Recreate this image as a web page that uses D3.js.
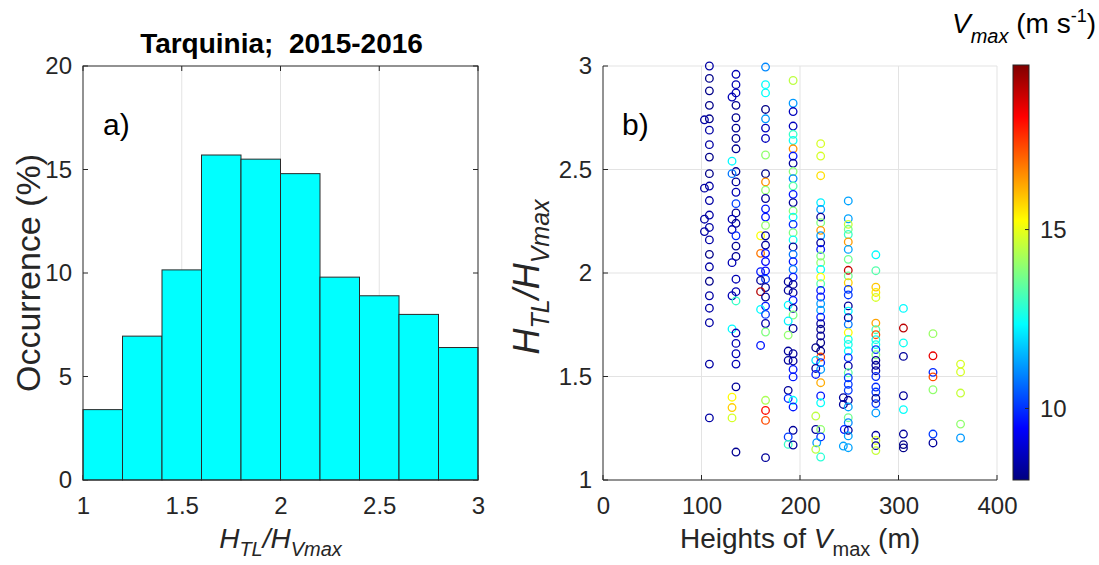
<!DOCTYPE html>
<html>
<head>
<meta charset="utf-8">
<script src="https://cdn.jsdelivr.net/npm/d3@7"></script>
<style>
  html, body { margin: 0; padding: 0; background: #fff; }
  svg { display: block; font-family: "Liberation Sans", Arial, Helvetica, sans-serif; }
</style>
</head>
<body>
<svg id="chart" width="1099" height="565"></svg>
<script>
// ---- Panel a: histogram of H_TL / H_Vmax ----
const binEdges = [1.0, 1.2, 1.4, 1.6, 1.8, 2.0, 2.2, 2.4, 2.6, 2.8, 3.0];
const occurrence = [3.4, 6.95, 10.15, 15.7, 15.5, 14.8, 9.8, 8.9, 8.0, 6.4];
const histXTicks = [1, 1.5, 2, 2.5, 3];
const histYTicks = [0, 5, 10, 15, 20];

// ---- Panel b: scatter of ratio vs height of the wind maximum ----
// heights (m), ratio H_TL/H_Vmax, and Vmax (m/s) for each profile
const heights = [
  // ~108 m
  108,108,108,108,108,103,108,108,108,108,108,103,108,108,103,108,103,108,108,108,108,108,108,108,108,108,
  // ~135 m
  135,135,135,131,135,135,135,135,135,131,135,131,135,135,135,135,131,135,131,135,135,135,131,135,135,131,135,131,135,135,135,135,135,131,131,131,135,
  // ~165 m
  165,165,165,165,165,165,165,165,165,165,165,165,165,165,165,160,165,165,160,165,165,165,160,165,160,165,160,165,165,160,165,165,165,160,165,165,165,165,
  // ~193 m
  193,193,193,193,193,193,193,193,193,193,193,193,193,193,193,193,193,193,193,193,193,193,193,193,188,193,188,193,193,188,193,193,188,193,188,188,193,188,193,193,193,188,188,193,193,193,188,188,193,
  // ~221 m
  221,221,221,221,221,221,221,221,221,221,221,221,221,221,221,221,221,221,221,221,221,221,221,221,221,216,221,221,216,221,216,221,216,221,221,221,216,216,221,221,217,216,221,
  // ~249 m
  249,249,249,249,249,249,249,249,249,249,249,249,249,249,249,249,249,249,249,249,249,249,249,249,249,249,249,244,249,244,249,249,249,245,249,249,244,249,
  // ~277 m
  277,277,277,277,277,277,277,277,277,277,277,277,277,277,277,277,277,277,277,277,277,277,277,277,277,
  // ~305 m
  305,305,305,305,305,305,305,305,305,
  // ~335 m
  335,335,335,335,335,335,335,
  // ~363 m
  363,363,363,363,363
];
const ratios = [
  3.00,2.94,2.88,2.81,2.745,2.74,2.69,2.62,2.56,2.48,2.42,2.41,2.35,2.28,2.26,2.22,2.20,2.16,2.09,2.03,1.96,1.89,1.83,1.76,1.56,1.30,
  2.96,2.91,2.87,2.85,2.81,2.75,2.70,2.65,2.60,2.54,2.49,2.48,2.44,2.39,2.335,2.29,2.26,2.24,2.21,2.18,2.13,2.08,2.05,1.97,1.91,1.89,1.865,1.73,1.71,1.66,1.61,1.56,1.45,1.40,1.35,1.30,1.135,
  2.995,2.91,2.87,2.79,2.745,2.70,2.65,2.57,2.48,2.44,2.40,2.36,2.31,2.27,2.23,2.18,2.18,2.135,2.095,2.095,2.055,2.01,2.006,1.97,1.964,1.93,1.91,1.884,1.84,1.824,1.80,1.756,1.715,1.65,1.385,1.336,1.288,1.108,
  2.93,2.82,2.78,2.71,2.67,2.64,2.60,2.565,2.53,2.49,2.456,2.42,2.38,2.34,2.30,2.27,2.235,2.195,2.16,2.126,2.09,2.055,2.017,1.98,1.958,1.945,1.916,1.905,1.868,1.845,1.829,1.797,1.768,1.732,1.70,1.623,1.61,1.578,1.575,1.534,1.498,1.433,1.394,1.385,1.353,1.24,1.208,1.172,1.169,
  2.625,2.565,2.47,2.34,2.307,2.27,2.243,2.206,2.18,2.146,2.114,2.082,2.05,2.017,1.98,1.948,1.916,1.884,1.852,1.82,1.787,1.755,1.728,1.696,1.663,1.639,1.623,1.594,1.578,1.567,1.539,1.534,1.51,1.47,1.406,1.373,1.309,1.244,1.244,1.208,1.18,1.148,1.111,
  2.348,2.262,2.235,2.211,2.186,2.15,2.114,2.066,2.013,1.986,1.953,1.921,1.894,1.841,1.816,1.784,1.752,1.712,1.679,1.655,1.623,1.591,1.551,1.518,1.494,1.462,1.433,1.398,1.385,1.365,1.353,1.301,1.277,1.244,1.24,1.213,1.164,1.156,
  2.088,2.011,1.932,1.906,1.882,1.758,1.726,1.702,1.678,1.654,1.63,1.605,1.578,1.554,1.528,1.50,1.449,1.425,1.394,1.369,1.324,1.216,1.191,1.166,1.142,
  1.829,1.734,1.662,1.597,1.407,1.34,1.222,1.171,1.155,
  1.707,1.60,1.52,1.498,1.436,1.222,1.179,
  1.56,1.522,1.42,1.27,1.203
];
const vmax = [
  8.4,8.1,8.1,8.1,8.1,8.4,8.4,8.4,8.1,8.1,8.4,8.4,8.4,8.4,8.4,8.4,8.4,8.4,8.1,8.4,8.1,8.4,8.4,8.4,8.4,8.4,
  8.6,8.6,8.6,8.6,8.2,8.2,8.2,8.2,8.2,12.3,8.2,10.8,8.3,8.6,10.2,8.2,8.6,8.2,8.6,9.9,8.2,8.2,8.6,8.6,8.6,8.6,13.0,12.3,8.6,8.6,8.6,8.6,8.3,15.3,15.8,14.8,8.2,
  11.0,12.4,12.4,8.1,11.2,8.7,8.7,14.0,8.1,16.5,14.0,8.3,9.7,9.7,14.0,15.2,8.3,8.3,16.8,9.5,9.5,9.5,9.7,10.1,8.3,8.3,19.0,8.3,9.7,12.3,10.1,8.5,13.8,9.7,14.3,18.0,17.3,8.3,
  14.5,11.2,8.7,8.7,13.0,12.5,16.5,9.7,8.3,13.9,11.0,13.3,9.7,8.3,13.9,12.5,9.9,13.8,12.5,8.3,10.8,9.7,10.8,9.7,8.3,8.3,8.3,8.3,9.7,12.3,8.3,13.8,12.2,8.3,14.0,8.3,8.3,8.3,8.3,9.7,9.7,8.3,9.9,12.3,9.7,8.3,10.1,13.0,8.3,
  14.8,14.8,15.6,12.2,11.2,8.3,13.8,16.4,11.2,8.3,9.7,13.8,14.0,12.3,15.2,13.3,9.7,9.7,11.2,11.2,9.7,8.3,8.1,8.3,8.1,8.1,8.1,17.3,12.0,9.9,8.3,11.2,9.7,16.2,9.7,12.4,14.5,8.3,14.0,9.9,11.2,14.5,12.8,
  11.3,11.3,14.6,13.7,13.0,16.4,11.3,13.6,18.8,13.6,15.8,10.1,10.1,8.3,12.3,8.3,10.8,15.3,12.6,12.6,12.3,9.9,8.4,13.4,10.1,10.1,10.1,8.3,8.3,8.3,11.3,13.6,11.0,9.7,8.3,11.3,11.3,11.3,
  12.3,13.3,15.9,15.5,14.8,16.3,13.2,17.2,12.6,12.6,10.1,13.8,8.2,8.3,8.3,9.9,9.9,10.1,8.1,10.1,11.2,8.3,14.8,8.3,14.6,
  12.3,18.9,12.5,8.3,8.3,12.4,8.3,8.1,8.1,
  14.1,18.4,9.9,17.3,14.0,10.1,8.3,
  14.8,14.8,14.6,14.0,11.2
];
const scatXTicks = [0, 100, 200, 300, 400];
const scatYTicks = [1, 1.5, 2, 2.5, 3];
const colorRange = [8.0, 19.6];
const colorTicks = [10, 15];

// ---- shared styling ----
const axisColor = "#262626";
const gridColor = "#e3e3e3";
const tickFont = 24;
const labelFont = 28;
const vLabelFont = 34;

const svg = d3.select("#chart");

// classic jet colormap
function jet(t) {
  const c = v => Math.max(0, Math.min(1, v));
  const r = c(1.5 - Math.abs(4 * t - 3));
  const g = c(1.5 - Math.abs(4 * t - 2));
  const b = c(1.5 - Math.abs(4 * t - 1));
  return d3.rgb(r * 255, g * 255, b * 255).formatHex();
}

// ================= Panel a =================
const A = { left: 83, right: 478, top: 66, bottom: 480 };
const xA = d3.scaleLinear().domain([1, 3]).range([A.left, A.right]);
const yA = d3.scaleLinear().domain([0, 20]).range([A.bottom, A.top]);
const gA = svg.append("g");

// vertical grid
gA.append("g").selectAll("line").data(histXTicks.slice(1, -1)).join("line")
  .attr("x1", d => xA(d)).attr("x2", d => xA(d))
  .attr("y1", A.top).attr("y2", A.bottom)
  .attr("stroke", gridColor).attr("stroke-width", 1);

// inner ticks (under the bars)
const tickLen = 5;
const ticksA = gA.append("g").attr("stroke", axisColor).attr("stroke-width", 1);
histXTicks.forEach(t => {
  ticksA.append("line").attr("x1", xA(t)).attr("x2", xA(t)).attr("y1", A.bottom).attr("y2", A.bottom - tickLen);
  ticksA.append("line").attr("x1", xA(t)).attr("x2", xA(t)).attr("y1", A.top).attr("y2", A.top + tickLen);
});
histYTicks.forEach(t => {
  ticksA.append("line").attr("x1", A.left).attr("x2", A.left + tickLen).attr("y1", yA(t)).attr("y2", yA(t));
  ticksA.append("line").attr("x1", A.right).attr("x2", A.right - tickLen).attr("y1", yA(t)).attr("y2", yA(t));
});

// bars
gA.append("g").selectAll("rect").data(occurrence).join("rect")
  .attr("x", (d, i) => xA(binEdges[i]))
  .attr("width", (d, i) => xA(binEdges[i + 1]) - xA(binEdges[i]))
  .attr("y", d => yA(d))
  .attr("height", d => yA(0) - yA(d))
  .attr("fill", "#00ffff")
  .attr("stroke", "#2a2a2a").attr("stroke-width", 1);

// box
gA.append("rect").attr("x", A.left).attr("y", A.top)
  .attr("width", A.right - A.left).attr("height", A.bottom - A.top)
  .attr("fill", "none").attr("stroke", axisColor).attr("stroke-width", 1);

// tick labels via d3 axes (tick lines drawn separately)
const axXA = gA.append("g").attr("transform", `translate(0,${A.bottom})`)
  .call(d3.axisBottom(xA).tickValues(histXTicks).tickSize(0).tickPadding(17).tickFormat(d3.format("")));
const axYA = gA.append("g").attr("transform", `translate(${A.left},0)`)
  .call(d3.axisLeft(yA).tickValues(histYTicks).tickSize(0).tickPadding(11).tickFormat(d3.format("")));
[axXA, axYA].forEach(ax => {
  ax.select(".domain").remove();
  ax.selectAll("text").attr("font-size", tickFont).attr("fill", axisColor)
    .attr("font-family", "'Liberation Sans', Arial, sans-serif");
});

// title
svg.append("text").attr("x", (A.left + A.right) / 2 + 1).attr("y", 53)
  .attr("text-anchor", "middle").attr("font-size", 28).attr("font-weight", "bold")
  .attr("fill", "#000").attr("xml:space", "preserve").text("Tarquinia;  2015-2016");

// panel label
svg.append("text").attr("x", 103).attr("y", 135).attr("font-size", 30).attr("fill", "#000").text("a)");

// y label
svg.append("text").attr("transform", `translate(40,${(A.top + A.bottom) / 2}) rotate(-90)`)
  .attr("text-anchor", "middle").attr("font-size", vLabelFont).attr("fill", axisColor)
  .text("Occurrence (%)");

// H_TL / H_Vmax label
function ratioLabel(sel, size, sub, shift) {
  sel.attr("font-size", size).attr("fill", axisColor).attr("font-style", "italic");
  sel.append("tspan").text("H");
  sel.append("tspan").attr("dy", shift).attr("font-size", sub).text("TL");
  sel.append("tspan").attr("dy", -shift).text("/H");
  sel.append("tspan").attr("dy", shift).attr("font-size", sub).text("Vmax");
}
svg.append("text").attr("x", (A.left + A.right) / 2).attr("y", 548)
  .attr("text-anchor", "middle").call(ratioLabel, labelFont, 20, 8);

// ================= Panel b =================
const B = { left: 603, right: 997, top: 66, bottom: 480 };
const xB = d3.scaleLinear().domain([0, 400]).range([B.left, B.right]);
const yB = d3.scaleLinear().domain([1, 3]).range([B.bottom, B.top]);
const color = d3.scaleSequential(jet).domain(colorRange);
const gB = svg.append("g");

// grid
gB.append("g").selectAll("line").data(scatXTicks.slice(1)).join("line")
  .attr("x1", d => xB(d)).attr("x2", d => xB(d)).attr("y1", B.top).attr("y2", B.bottom)
  .attr("stroke", gridColor).attr("stroke-width", 1);
gB.append("g").selectAll("line").data(scatYTicks.slice(1)).join("line")
  .attr("x1", B.left).attr("x2", B.right).attr("y1", d => yB(d)).attr("y2", d => yB(d))
  .attr("stroke", gridColor).attr("stroke-width", 1);

// axis lines and inner ticks
const ticksB = gB.append("g").attr("stroke", axisColor).attr("stroke-width", 1);
ticksB.append("line").attr("x1", B.left).attr("x2", B.right).attr("y1", B.bottom).attr("y2", B.bottom);
ticksB.append("line").attr("x1", B.left).attr("x2", B.left).attr("y1", B.top).attr("y2", B.bottom);
scatXTicks.forEach(t => ticksB.append("line").attr("x1", xB(t)).attr("x2", xB(t)).attr("y1", B.bottom).attr("y2", B.bottom - tickLen));
scatYTicks.forEach(t => ticksB.append("line").attr("x1", B.left).attr("x2", B.left + tickLen).attr("y1", yB(t)).attr("y2", yB(t)));

// points
const pts = heights.map((h, i) => ({ h, r: ratios[i], v: vmax[i] }));
gB.append("g").selectAll("circle").data(pts).join("circle")
  .attr("cx", d => xB(d.h)).attr("cy", d => yB(d.r)).attr("r", 3.8)
  .attr("fill", "none").attr("stroke", d => color(d.v)).attr("stroke-width", 1.3);

const axXB = gB.append("g").attr("transform", `translate(0,${B.bottom})`)
  .call(d3.axisBottom(xB).tickValues(scatXTicks).tickSize(0).tickPadding(17).tickFormat(d3.format("")));
const axYB = gB.append("g").attr("transform", `translate(${B.left},0)`)
  .call(d3.axisLeft(yB).tickValues(scatYTicks).tickSize(0).tickPadding(11).tickFormat(d3.format("")));
[axXB, axYB].forEach(ax => {
  ax.select(".domain").remove();
  ax.selectAll("text").attr("font-size", tickFont).attr("fill", axisColor)
    .attr("font-family", "'Liberation Sans', Arial, sans-serif");
});

svg.append("text").attr("x", 622).attr("y", 135).attr("font-size", 30).attr("fill", "#000").text("b)");

// x label
const xlb = svg.append("text").attr("x", (B.left + B.right) / 2).attr("y", 548)
  .attr("text-anchor", "middle").attr("font-size", labelFont).attr("fill", axisColor);
xlb.append("tspan").text("Heights of ");
xlb.append("tspan").attr("font-style", "italic").text("V");
xlb.append("tspan").attr("dy", 8).attr("font-size", 20).text("max");
xlb.append("tspan").attr("dy", -8).attr("xml:space", "preserve").text(" (m)");

// y label
svg.append("text").attr("transform", `translate(539,277) rotate(-90)`)
  .attr("text-anchor", "middle").call(ratioLabel, 36, 25, 10);

// ================= Colorbar =================
const C = { left: 1013, right: 1029, top: 65, bottom: 480 };
const yC = d3.scaleLinear().domain(colorRange).range([C.bottom, C.top]);
const grad = svg.append("defs").append("linearGradient").attr("id", "jetGrad")
  .attr("x1", 0).attr("y1", 1).attr("x2", 0).attr("y2", 0);
d3.range(0, 1.0001, 0.0625).forEach(t => {
  grad.append("stop").attr("offset", t).attr("stop-color", jet(t));
});
svg.append("rect").attr("x", C.left).attr("y", C.top)
  .attr("width", C.right - C.left).attr("height", C.bottom - C.top)
  .attr("fill", "url(#jetGrad)").attr("stroke", axisColor).attr("stroke-width", 1);
const gC = svg.append("g");
colorTicks.forEach(t => {
  gC.append("line").attr("x1", C.right).attr("x2", C.right - 4).attr("y1", yC(t)).attr("y2", yC(t))
    .attr("stroke", axisColor);
});
const axC = gC.append("g").attr("transform", `translate(${C.right},0)`)
  .call(d3.axisRight(yC).tickValues(colorTicks).tickSize(0).tickPadding(11).tickFormat(d3.format("")));
axC.select(".domain").remove();
axC.selectAll("text").attr("font-size", tickFont).attr("fill", axisColor)
  .attr("font-family", "'Liberation Sans', Arial, sans-serif");

// colorbar title
const ct = svg.append("text").attr("x", 952).attr("y", 33).attr("font-size", labelFont).attr("fill", "#000");
ct.append("tspan").attr("font-style", "italic").text("V");
ct.append("tspan").attr("dy", 10).attr("font-size", 20).attr("font-style", "italic").text("max");
ct.append("tspan").attr("dy", -10).attr("xml:space", "preserve").text(" (m s");
ct.append("tspan").attr("dy", -11).attr("font-size", 18).text("-1");
ct.append("tspan").attr("dy", 11).text(")");
</script>
</body>
</html>
